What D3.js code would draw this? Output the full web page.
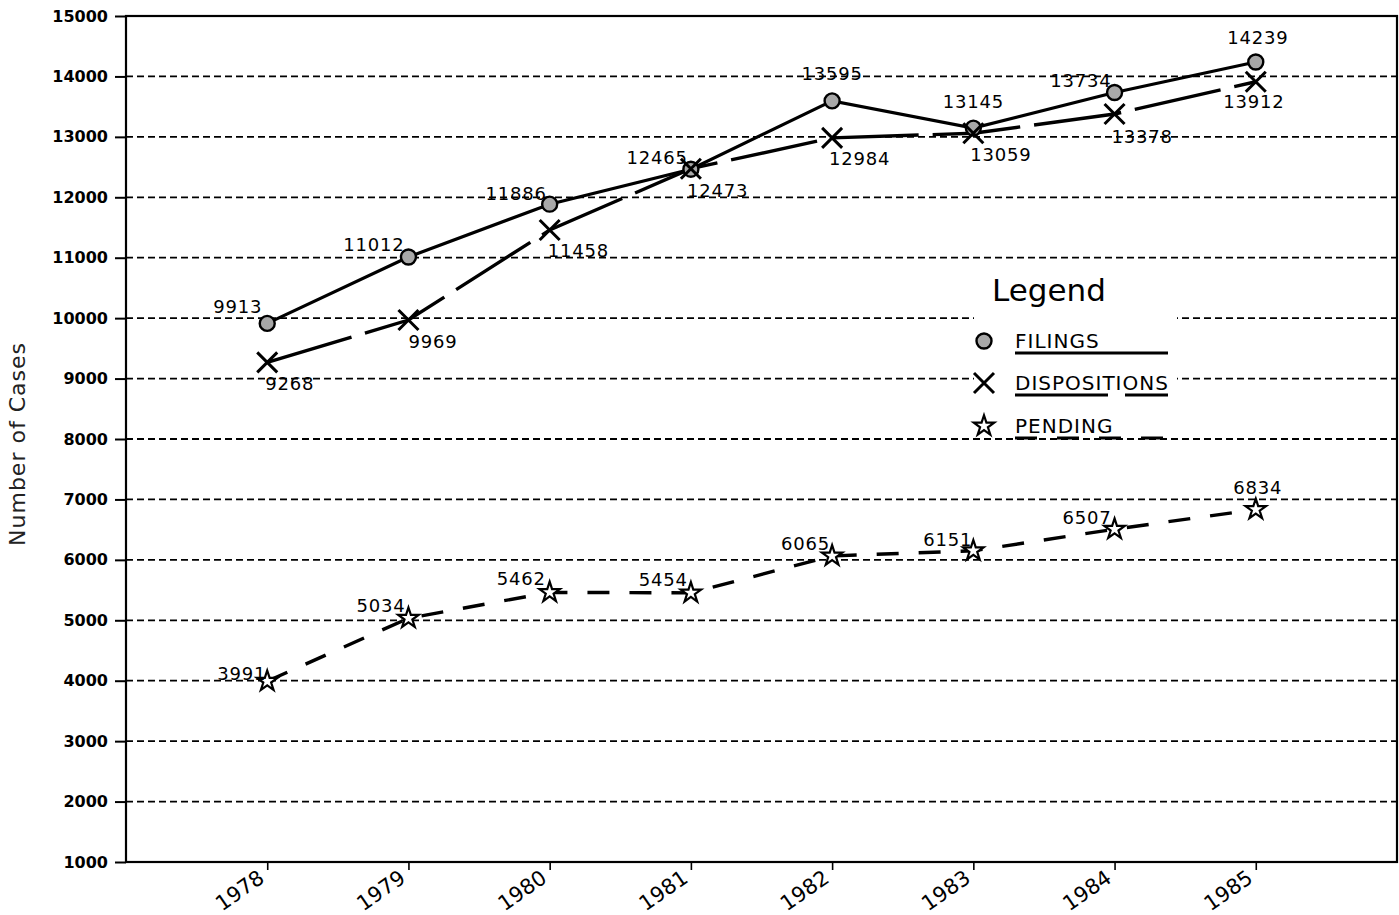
<!DOCTYPE html>
<html>
<head>
<meta charset="utf-8">
<script src="https://cdn.jsdelivr.net/npm/d3@7/dist/d3.min.js"></script>
<style>
  html, body { margin: 0; padding: 0; background: #fff; }
  svg { display: block; }
  text { font-family: "DejaVu Sans", sans-serif; fill: #000; }
</style>
</head>
<body>
<svg id="chart" width="1399" height="915"></svg>
<script>
// ---- data ----
const years = [1978, 1979, 1980, 1981, 1982, 1983, 1984, 1985];
const filings = [9913, 11012, 11886, 12465, 13595, 13145, 13734, 14239];
const dispositions = [9268, 9969, 11458, 12473, 12984, 13059, 13378, 13912];
const pending = [3991, 5034, 5462, 5454, 6065, 6151, 6507, 6834];
const yTicks = [1000, 2000, 3000, 4000, 5000, 6000, 7000, 8000, 9000, 10000, 11000, 12000, 13000, 14000, 15000];
const seriesNames = ["FILINGS", "DISPOSITIONS", "PENDING"];

// ---- label layout (anchor, dx, dy) ----
const filingsLabelLayout = [["end",-5,-10],["end",-4,-6],["end",-3,-4],["end",-3,-5],["middle",0,-21],["middle",0,-20],["end",-3,-6],["middle",2,-18]];
const dispLabelLayout = [["start",-2,28],["start",0,28],["start",-2,27],["start",-4,28],["start",-3,27],["start",-3,28],["start",-3,29],["middle",-2,26]];
const pendLabelLayout = [["end",-1,-1],["end",-3,-6],["end",-4,-7],["end",-3,-7],["end",-2,-6],["end",-1,-5],["end",-3,-5],["middle",2,-15]];

(function () {
const svg = d3.select("#chart");
const pLeft = 126, pRight = 1397, pTop = 16, pBottom = 862;

const x = d3.scaleLinear().domain([1977, 1986]).range([pLeft, pRight]);
const y = d3.scaleLinear().domain([1000, 15000]).range([pBottom, pTop]);

// gridlines
svg.append("g").selectAll("line")
  .data(yTicks.filter(d => d > 1000 && d < 15000))
  .join("line")
  .attr("x1", pLeft).attr("x2", pRight)
  .attr("y1", d => y(d)).attr("y2", d => y(d))
  .attr("stroke", "#000").attr("stroke-width", 1.8)
  .attr("stroke-dasharray", "7,4");

// frame
svg.append("rect")
  .attr("x", pLeft).attr("y", pTop)
  .attr("width", pRight - pLeft).attr("height", pBottom - pTop)
  .attr("fill", "none").attr("stroke", "#000").attr("stroke-width", 2.2);

// y axis
const yAxis = svg.append("g")
  .attr("transform", `translate(${pLeft},0)`)
  .call(d3.axisLeft(y).tickValues(yTicks).tickSize(11).tickPadding(7).tickFormat(d => String(d)));
yAxis.select(".domain").remove();
yAxis.selectAll(".tick line").attr("stroke", "#000").attr("stroke-width", 2);
yAxis.selectAll(".tick text")
  .style("font-family", "DejaVu Sans, sans-serif")
  .style("font-size", "16px").style("font-weight", "bold").attr("fill", "#000");

// x axis
const xAxis = svg.append("g")
  .attr("transform", `translate(0,${pBottom})`)
  .call(d3.axisBottom(x).tickValues(years).tickSize(8).tickFormat(d => String(d)));
xAxis.select(".domain").remove();
xAxis.selectAll(".tick line").attr("stroke", "#000").attr("stroke-width", 1.6);
xAxis.selectAll(".tick text")
  .style("font-family", "DejaVu Sans, sans-serif")
  .style("font-size", "21px").attr("fill", "#000")
  .attr("text-anchor", "end")
  .attr("dy", null)
  .attr("y", 0)
  .attr("transform", "translate(-2,19) rotate(-35)");

// y axis title
svg.append("text")
  .attr("transform", `translate(25,${(pTop + pBottom) / 2 + 5}) rotate(-90)`)
  .attr("text-anchor", "middle")
  .style("font-size", "22px").style("letter-spacing", "1px").style("fill", "#222")
  .text("Number of Cases");

// lines
const lineGen = d3.line().x((d, i) => x(years[i])).y(d => y(d));
svg.append("path").datum(filings).attr("d", lineGen)
  .attr("fill", "none").attr("stroke", "#000").attr("stroke-width", 3.2);
svg.append("path").datum(dispositions).attr("d", lineGen)
  .attr("fill", "none").attr("stroke", "#000").attr("stroke-width", 3.4)
  .attr("stroke-dasharray", "88,14");
svg.append("path").datum(pending).attr("d", lineGen)
  .attr("fill", "none").attr("stroke", "#000").attr("stroke-width", 3.4)
  .attr("stroke-dasharray", "22,20");

// markers
function circleMarker(g, cx, cy) {
  g.append("circle").attr("cx", cx).attr("cy", cy).attr("r", 7.5)
    .attr("fill", "#a8a8a8").attr("stroke", "#000").attr("stroke-width", 2.4);
}
function xMarker(g, cx, cy) {
  const s = 10;
  g.append("path")
    .attr("d", `M${cx - s},${cy - s}L${cx + s},${cy + s}M${cx - s},${cy + s}L${cx + s},${cy - s}`)
    .attr("stroke", "#000").attr("stroke-width", 3).attr("fill", "none");
}
const starPath = d3.symbol().type(d3.symbolStar).size(130)();
function starMarker(g, cx, cy) {
  g.append("path").attr("d", starPath)
    .attr("transform", `translate(${cx},${cy})`)
    .attr("fill", "#fff").attr("stroke", "#000").attr("stroke-width", 2.2);
}

const mk = svg.append("g");
filings.forEach((v, i) => circleMarker(mk, x(years[i]), y(v)));
dispositions.forEach((v, i) => xMarker(mk, x(years[i]), y(v)));
pending.forEach((v, i) => starMarker(mk, x(years[i]), y(v)));

// value labels
function addLabels(values, layout) {
  svg.append("g").selectAll("text").data(values).join("text")
    .attr("x", (d, i) => x(years[i]) + layout[i][1])
    .attr("y", (d, i) => y(d) + layout[i][2])
    .attr("text-anchor", (d, i) => layout[i][0])
    .style("font-size", "18px").style("letter-spacing", "0.8px")
    .text(d => String(d));
}
addLabels(filings, filingsLabelLayout);
addLabels(dispositions, dispLabelLayout);
addLabels(pending, pendLabelLayout);

// legend
const lg = svg.append("g");
lg.append("rect").attr("x", 974).attr("y", 308).attr("width", 203).attr("height", 128).attr("fill", "#fff");
lg.append("text").attr("x", 992).attr("y", 301).style("font-size", "31px").text("Legend");
const legendRows = [
  { y: 348, marker: circleMarker, dash: null },
  { y: 390, marker: xMarker, dash: "93,17" },
  { y: 433, marker: starMarker, dash: "22,20" }
];
legendRows.forEach((r, i) => {
  r.marker(lg, 984, r.y - 7);
  lg.append("text").attr("x", 1015).attr("y", r.y)
    .style("font-size", "20px").style("letter-spacing", "1px").text(seriesNames[i]);
  lg.append("line").attr("x1", 1015).attr("x2", 1168)
    .attr("y1", r.y + 5).attr("y2", r.y + 5)
    .attr("stroke", "#000").attr("stroke-width", 3)
    .attr("stroke-dasharray", r.dash);
});
})();
</script>
</body>
</html>
